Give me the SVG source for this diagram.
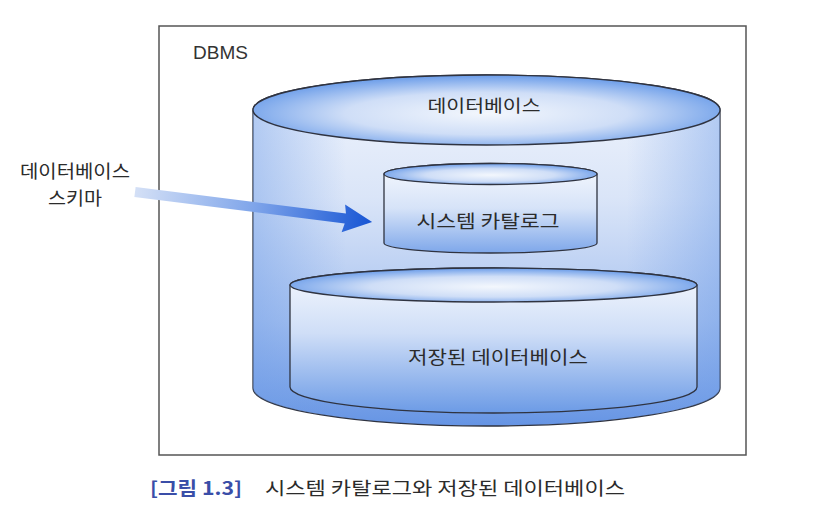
<svg xmlns="http://www.w3.org/2000/svg" width="832" height="514" viewBox="0 0 832 514">
<defs>
<style>
.ko{font-family:"Noto Sans CJK KR","Noto Sans",sans-serif;fill:#2b2b2b;}
.cyl{stroke:#2f3340;stroke-width:1.3;}
</style>
<linearGradient id="bodyBig" x1="0" y1="0" x2="0" y2="1">
<stop offset="0" stop-color="#f1f5fd"/>
<stop offset="0.35" stop-color="#dae5f8"/>
<stop offset="0.7" stop-color="#a9c3f0"/>
<stop offset="1" stop-color="#6594e4"/>
</linearGradient>
<linearGradient id="sideShade" x1="0" y1="0" x2="1" y2="0">
<stop offset="0" stop-color="#6f9de8" stop-opacity="0.45"/>
<stop offset="0.2" stop-color="#6f9de8" stop-opacity="0"/>
<stop offset="0.8" stop-color="#6f9de8" stop-opacity="0"/>
<stop offset="1" stop-color="#6f9de8" stop-opacity="0.45"/>
</linearGradient>
<radialGradient id="topEll" cx="0.5" cy="0.55" r="0.55">
<stop offset="0" stop-color="#f3f7fd"/>
<stop offset="0.55" stop-color="#cfdef7"/>
<stop offset="1" stop-color="#6a9ce9"/>
</radialGradient>
<linearGradient id="bodyInner" x1="0" y1="0" x2="0" y2="1">
<stop offset="0" stop-color="#f6f9fe"/>
<stop offset="0.45" stop-color="#cfdef7"/>
<stop offset="1" stop-color="#6c9be6"/>
</linearGradient>
<linearGradient id="bodySmall" x1="0" y1="0" x2="0" y2="1">
<stop offset="0" stop-color="#f6f9fe"/>
<stop offset="0.5" stop-color="#d6e3f8"/>
<stop offset="1" stop-color="#7ea7ea"/>
</linearGradient>
<linearGradient id="arrowGrad" gradientUnits="userSpaceOnUse" x1="0" y1="0" x2="239" y2="0">
<stop offset="0" stop-color="#d4e0f6"/>
<stop offset="0.5" stop-color="#7fa5ea"/>
<stop offset="1" stop-color="#1755d4"/>
</linearGradient>
</defs>
<rect width="832" height="514" fill="#ffffff"/>

<g id="dbms-frame">
<rect x="159" y="26" width="587" height="429" fill="none" stroke="#555" stroke-width="1.5"/>
<text x="193" y="59" font-family="Liberation Sans, Arial, sans-serif" font-size="19" fill="#333">DBMS</text>
</g>

<g id="database">
<path class="cyl" d="M253,110 L253,388 A233.5,38 0 0 0 720,388 L720,110 A233.5,35 0 0 0 253,110 Z" fill="url(#bodyBig)"/>
<path d="M253,110 L253,388 A233.5,38 0 0 0 720,388 L720,110 A233.5,35 0 0 0 253,110 Z" fill="url(#sideShade)"/>
<ellipse class="cyl" cx="486.5" cy="110" rx="233.5" ry="35" fill="url(#topEll)"/>
<text class="ko" x="484" y="112" font-size="17" text-anchor="middle" textLength="113" lengthAdjust="spacingAndGlyphs">데이터베이스</text>
</g>

<g id="system-catalog">
<path class="cyl" d="M384,174 L384,243 A106.5,10 0 0 0 597,243 L597,174 A106.5,10.5 0 0 0 384,174 Z" fill="url(#bodySmall)"/>
<ellipse class="cyl" cx="490.5" cy="174" rx="106.5" ry="10.5" fill="url(#topEll)"/>
<text class="ko" x="488" y="228" font-size="18" text-anchor="middle" textLength="143" lengthAdjust="spacingAndGlyphs">시스템 카탈로그</text>
</g>

<g id="stored-database">
<path class="cyl" d="M290,285 L290,387 A203.5,26 0 0 0 697,387 L697,285 A203.5,17 0 0 0 290,285 Z" fill="url(#bodyInner)"/>
<ellipse class="cyl" cx="493.5" cy="285" rx="203.5" ry="17" fill="url(#topEll)"/>
<text class="ko" x="498" y="364" font-size="18" text-anchor="middle" textLength="180" lengthAdjust="spacingAndGlyphs">저장된 데이터베이스</text>
</g>

<g id="schema-label">
<text class="ko" x="75" y="178" font-size="18" text-anchor="middle" textLength="110" lengthAdjust="spacingAndGlyphs">데이터베이스</text>
<text class="ko" x="75" y="205" font-size="18" text-anchor="middle" textLength="54" lengthAdjust="spacingAndGlyphs">스키마</text>
</g>

<g id="connectors">
<g transform="translate(135,192) rotate(7.2)">
<path d="M0,-5 L212,-5 L210,-14 L239,0 L210,14 L212,5 L0,5 Z" fill="url(#arrowGrad)"/>
</g>
</g>

<g id="caption">
<text x="150" y="495" font-family="Noto Sans CJK KR, sans-serif" font-size="18" font-weight="bold" fill="#3a4ea8" textLength="92" lengthAdjust="spacingAndGlyphs">[그림 1.3]</text>
<text class="ko" x="265" y="495" font-size="18" textLength="360" lengthAdjust="spacingAndGlyphs">시스템 카탈로그와 저장된 데이터베이스</text>
</g>
</svg>
